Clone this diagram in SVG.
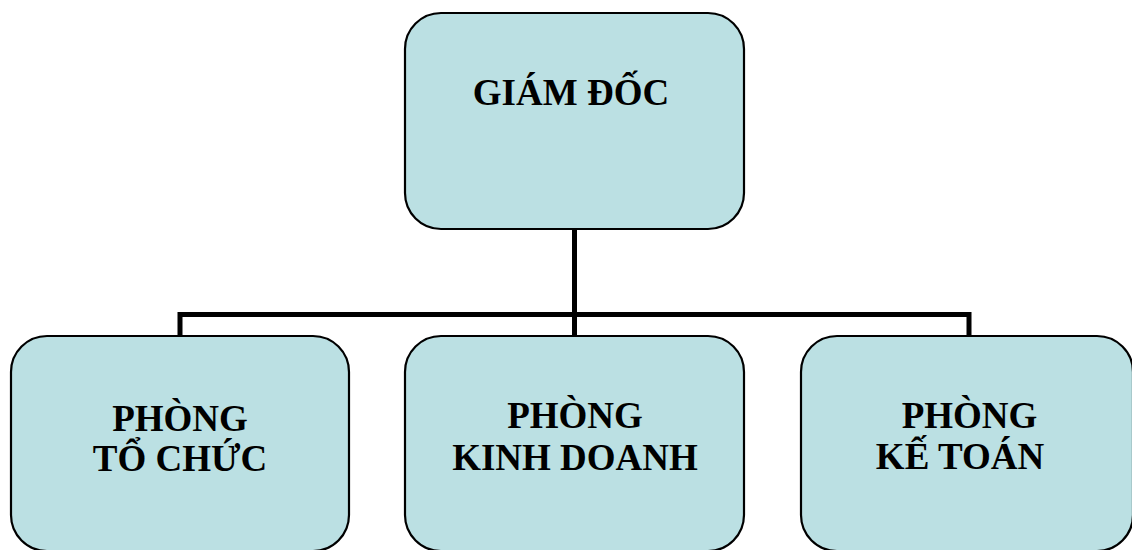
<svg xmlns="http://www.w3.org/2000/svg" width="1132" height="550" viewBox="0 0 1132 550">
<style>
.box{fill:#BBE0E3;stroke:#000;stroke-width:2.2}
.t{font-family:"Liberation Serif","Times New Roman",serif;font-weight:bold;font-size:37px;fill:#000;text-anchor:middle}
.c{fill:none;stroke:#000;stroke-width:5;stroke-linejoin:miter;stroke-linecap:butt}
</style>
<rect width="1132" height="550" fill="#fff"/>
<g id="connectors">
<path class="c" d="M574.5 229 V314.5"/>
<path class="c" d="M180 336 V314.5 H969 V336"/>
<path class="c" d="M574.5 314.5 V336"/>
</g>
<g id="giam-doc">
<rect class="box" x="405" y="13" width="339" height="216" rx="36" ry="36"/>
<text class="t" x="571" y="105">GIÁM ĐỐC</text>
</g>
<g id="phong-to-chuc">
<rect class="box" x="11" y="336" width="338" height="215" rx="36" ry="36"/>
<text class="t" x="180" y="431">PHÒNG</text>
<text class="t" x="180" y="471">TỔ CHỨC</text>
</g>
<g id="phong-kinh-doanh">
<rect class="box" x="405" y="336" width="339" height="215" rx="36" ry="36"/>
<text class="t" x="575" y="428">PHÒNG</text>
<text class="t" x="575" y="470">KINH DOANH</text>
</g>
<g id="phong-ke-toan">
<rect class="box" x="801" y="336" width="332" height="215" rx="36" ry="36"/>
<text class="t" x="969.5" y="428">PHÒNG</text>
<text class="t" x="960" y="469">KẾ TOÁN</text>
</g>
</svg>
